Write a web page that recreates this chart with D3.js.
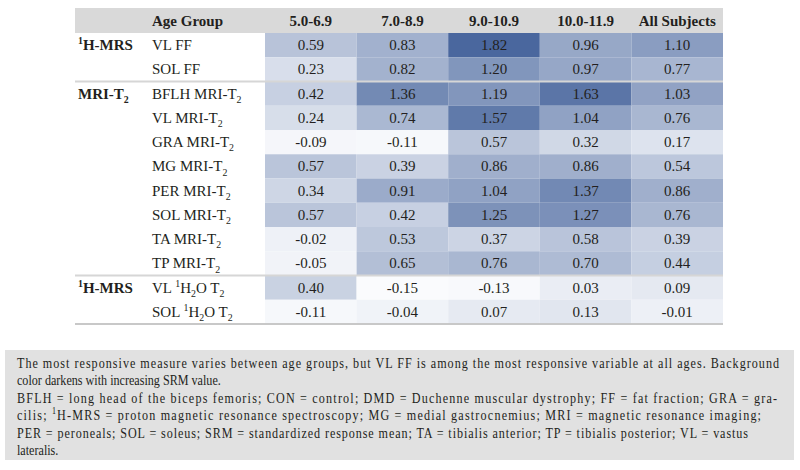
<!DOCTYPE html>
<html><head><meta charset="utf-8">
<script src="https://cdn.jsdelivr.net/npm/d3@7"></script>
<style>body{margin:0;background:#fff}svg{display:block}</style>
</head><body><svg id="c" width="800" height="470"></svg>
<script>
// ---- data ----
const ageGroups = ["5.0-6.9", "7.0-8.9", "9.0-10.9", "10.0-11.9", "All Subjects"];
const measures = ["VL FF", "SOL FF", "BFLH MRI-T_2", "VL MRI-T_2", "GRA MRI-T_2", "MG MRI-T_2",
  "PER MRI-T_2", "SOL MRI-T_2", "TA MRI-T_2", "TP MRI-T_2", "VL ^1H_2O T_2", "SOL ^1H_2O T_2"];
const srm_5_0_6_9   = [0.59, 0.23, 0.42, 0.24, -0.09, 0.57, 0.34, 0.57, -0.02, -0.05, 0.40, -0.11];
const srm_7_0_8_9   = [0.83, 0.82, 1.36, 0.74, -0.11, 0.39, 0.91, 0.42, 0.53, 0.65, -0.15, -0.04];
const srm_9_0_10_9  = [1.82, 1.20, 1.19, 1.57, 0.57, 0.86, 1.04, 1.25, 0.37, 0.76, -0.13, 0.07];
const srm_10_0_11_9 = [0.96, 0.97, 1.63, 1.04, 0.32, 0.86, 1.37, 1.27, 0.58, 0.70, 0.03, 0.13];
const srm_all       = [1.10, 0.77, 1.03, 0.76, 0.17, 0.54, 0.86, 0.76, 0.39, 0.44, 0.09, -0.01];
const groupLabels = ["^1H-MRS", "MRI-T_2", "^1H-MRS"];
const groupFirstMeasure = ["VL FF", "BFLH MRI-T_2", "VL ^1H_2O T_2"];
const headerLabel = "Age Group";
const noteLines = [
  "The most responsive measure varies between age groups, but VL FF is among the most responsive variable at all ages. Background",
  "color darkens with increasing SRM value.",
  "BFLH = long head of the biceps femoris; CON = control; DMD = Duchenne muscular dystrophy; FF = fat fraction; GRA = gra-",
  "cilis; ^1H-MRS = proton magnetic resonance spectroscopy; MG = medial gastrocnemius; MRI = magnetic resonance imaging;",
  "PER = peroneals; SOL = soleus; SRM = standardized response mean; TA = tibialis anterior; TP = tibialis posterior; VL = vastus",
  "lateralis."
];
const noteLineWidths = [762, 204, 760, 744, 731, null];

// ---- build ----
const columns = [srm_5_0_6_9, srm_7_0_8_9, srm_9_0_10_9, srm_10_0_11_9, srm_all];
const cells = [];
columns.forEach((col, ci) => col.forEach((v, ri) => cells.push({col: ageGroups[ci], row: measures[ri], v})));

const svg = d3.select("#c");
const FONT = "'Liberation Serif','Times New Roman',serif";
const INK = "#231f20";
const tableL = 75, tableR = 723;

const x = d3.scaleBand().domain(ageGroups).range([265, tableR]);
const y = d3.scaleBand().domain(measures).range([33, 324]);
const color = d3.scaleLinear().domain([-0.15, 1.82]).range(["#fafbfd", "#4a679e"]);

function rich(sel, s, fs) {
  const re = /([\^_])(.)|([^\^_]+)/g;
  let m, shift = 0;
  while ((m = re.exec(s)) !== null) {
    if (m[3] !== undefined) {
      sel.append("tspan").attr("dy", -shift).text(m[3]);
      shift = 0;
    } else {
      const d = m[1] === "^" ? -0.38 * fs : 0.28 * fs;
      sel.append("tspan").attr("dy", d - shift).attr("font-size", 0.66 * fs).text(m[2]);
      shift = d;
    }
  }
}

// header band
svg.append("rect").attr("x", tableL).attr("y", 8).attr("width", tableR - tableL).attr("height", 25).attr("fill", "#d9d9d9");
const hdr = svg.append("g").attr("font-family", FONT).attr("font-weight", "bold").attr("font-size", 15).attr("fill", INK);
hdr.append("text").attr("x", 152).attr("y", 25.5).text(headerLabel);
hdr.selectAll("text.col").data(ageGroups).join("text").attr("class", "col")
  .attr("x", d => x(d) + x.bandwidth() / 2).attr("y", 25.5).attr("text-anchor", "middle").text(d => d);

// cells
svg.append("g").selectAll("rect").data(cells).join("rect")
  .attr("x", d => x(d.col)).attr("y", d => y(d.row))
  .attr("width", x.bandwidth()).attr("height", y.bandwidth())
  .attr("fill", d => color(d.v));

svg.append("g").attr("font-family", FONT).attr("font-size", 15).attr("fill", INK)
  .selectAll("text").data(cells).join("text")
  .attr("x", d => x(d.col) + x.bandwidth() / 2).attr("y", d => y(d.row) + y.bandwidth() / 2 + 5)
  .attr("text-anchor", "middle").text(d => d.v.toFixed(2));

// row labels
const rl = svg.append("g").attr("font-family", FONT).attr("font-size", 15).attr("fill", INK);
measures.forEach(mm => {
  const t = rl.append("text").attr("x", 152).attr("y", y(mm) + y.bandwidth() / 2 + 5);
  rich(t, mm, 15);
});
// group labels
const gl = svg.append("g").attr("font-family", FONT).attr("font-size", 15).attr("font-weight", "bold").attr("fill", INK);
groupLabels.forEach((g, i) => {
  const t = gl.append("text").attr("x", 78).attr("y", y(groupFirstMeasure[i]) + y.bandwidth() / 2 + 5);
  rich(t, g, 15);
});

// separators
[groupFirstMeasure[1], groupFirstMeasure[2]].forEach(mm => {
  svg.append("line").attr("x1", tableL).attr("x2", tableR).attr("y1", y(mm)).attr("y2", y(mm))
    .attr("stroke", "#d6d6d6").attr("stroke-width", 2);
});
svg.append("line").attr("x1", tableL).attr("x2", tableR).attr("y1", y.range()[1]).attr("y2", y.range()[1])
  .attr("stroke", "#c8c8c8").attr("stroke-width", 2);

// note box
svg.append("rect").attr("x", 5).attr("y", 350).attr("width", 789).attr("height", 110).attr("fill", "#e1e1e1");
const NFS = 15;
const nt = svg.append("g").attr("font-family", FONT).attr("font-size", NFS).attr("fill", INK);
// measure the unjustified line to derive the horizontal condensation of the face
const probe = nt.append("text").text(noteLines[1]);
let k = noteLineWidths[1] / probe.node().getComputedTextLength();
probe.remove();
k = Math.max(0.75, Math.min(1, k));
nt.attr("transform", `scale(${k},1)`);
noteLines.forEach((ln, i) => {
  const t = nt.append("text").attr("x", 17 / k).attr("y", 368 + i * 17.4);
  rich(t, ln, NFS);
  if (noteLineWidths[i] && i !== 1) {
    t.attr("textLength", noteLineWidths[i] / k).attr("lengthAdjust", "spacing");
  }
});
</script></body></html>
